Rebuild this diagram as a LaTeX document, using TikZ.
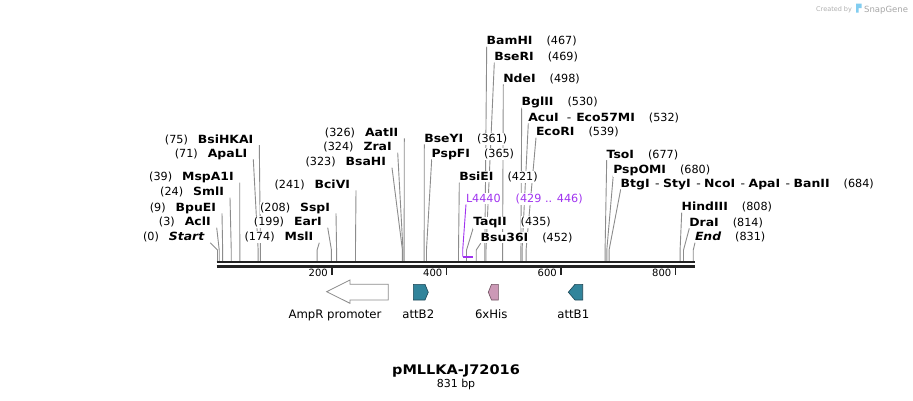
\documentclass[tikz,border=0pt]{standalone}
\usepackage{fontspec}
\setmainfont{DejaVu Sans}
\newfontfamily\namefont{DejaVu Sans}[FakeStretch=1.1]
\pgfdeclarelayer{bgfill}
\pgfdeclarelayer{lines}
\pgfsetlayers{bgfill,lines,main}
\definecolor{linegray}{RGB}{140,140,140}
\definecolor{bbcol}{RGB}{34,34,34}
\definecolor{primercol}{RGB}{160,51,240}
\definecolor{attcol}{RGB}{49,132,155}
\definecolor{attedge}{RGB}{30,70,85}
\definecolor{hiscol}{RGB}{204,153,182}
\definecolor{hisedge}{RGB}{110,80,95}
\definecolor{wmgray}{RGB}{175,175,175}
\definecolor{wmblue}{RGB}{130,205,240}
\newcommand\dashsep{\hspace{8pt}{\mdseries -}\hspace{5pt}}
\newcommand\dashsepb{\hspace{5.5pt}{\mdseries -}\hspace{3.5pt}}
% left-side label: id, right end of name, text centre y, number, name, bp
\newcommand\leftsite[6]{%
  \node[nm,anchor=base east] (#1) at (#2,#3+4.2) {#5};
  \node[num,anchor=base east] (#1n) at ([xshift=-10pt]#1.base west) {#4};
  \pgfmathsetmacro\siteX{217.5+0.5725*#6}
  \coordinate (#1p) at (#2+6,#3+6);
  \coordinate (#1k) at (\siteX,250);
  \coordinate (#1s) at (\siteX,261);
  \begin{pgfonlayer}{lines}\draw[cutline] (#1p) -- (#1k) -- (#1s);\end{pgfonlayer}
}
% right-side label: id, left end of name, text centre y, name, number, bp
\newcommand\rightsite[6]{%
  \node[nm,anchor=base west] (#1) at (#2,#3+4.2) {#4};
  \node[num,anchor=base west] (#1n) at ([xshift=14pt]#1.base east) {#5};
  \pgfmathsetmacro\siteX{217.5+0.5725*#6}
  \coordinate (#1p) at (#2,#3+6);
  \coordinate (#1k) at (\siteX,250);
  \coordinate (#1s) at (\siteX,261);
  \begin{pgfonlayer}{lines}\draw[cutline] (#1p) -- (#1k) -- (#1s);\end{pgfonlayer}
}
\begin{document}
\begin{tikzpicture}[x=1pt,y=-1pt,
  nm/.style={inner xsep=0pt,inner ysep=1pt,outer sep=0pt,fill=white,font=\namefont\fontsize{11.3}{13}\selectfont\bfseries},
  num/.style={inner xsep=0pt,inner ysep=1pt,outer sep=0pt,fill=white,font=\fontsize{11.2}{13}\selectfont},
  cutline/.style={draw=linegray,line width=0.9pt},
  backbone/.style={draw=bbcol,line width=2.3pt},
  tickmark/.style={draw=bbcol,line width=1.6pt},
  ticklab/.style={inner sep=0pt,font=\fontsize{10}{12}\selectfont,anchor=base east},
  featlab/.style={inner sep=0pt,font=\fontsize{11.7}{13}\selectfont,anchor=base},
  attfeat/.style={fill=attcol,draw=attedge,line width=0.6pt},
  hisfeat/.style={fill=hiscol,draw=hisedge,line width=0.6pt},
  promfeat/.style={fill=white,draw=linegray,line width=0.8pt}]
\useasboundingbox (0,0) rectangle (913,400);
\begin{pgfonlayer}{bgfill}
\fill[white] (0,0) rectangle (913,400);
\end{pgfonlayer}

% watermark
\node[inner sep=0pt,anchor=base west,text=wmgray,font=\fontsize{6.5}{8}\selectfont] (wm1) at (816,11) {Created by};
\fill[wmblue] (856,3.5) rectangle (861.5,8) (856,8) rectangle (858.5,12.5);
\node[inner sep=0pt,anchor=base west,text=wmgray!110,font=\fontsize{8.5}{10}\selectfont] (wm2) at (864,12) {SnapGene};

% backbone
\coordinate (bbA1) at (216.7,262); \coordinate (bbB1) at (695,262);
\coordinate (bbA2) at (216.7,266.4); \coordinate (bbB2) at (695,266.4);
\draw[backbone] (bbA1) -- (bbB1);
\draw[backbone] (bbA2) -- (bbB2);

% ticks
\foreach \t/\v in {1/200,2/400,3/600,4/800}{
  \pgfmathsetmacro\tx{217.5+0.5725*\v}
  \coordinate (tk\t a) at (\tx,266.5);
  \coordinate (tk\t b) at (\tx,274.5);
  \draw[tickmark] (tk\t a) -- (tk\t b);
  \node[ticklab] (tl\t) at (\tx-4,276.7) {\v};
}

% left-side sites
\leftsite{st}{204.3}{236.7}{(0)}{\itshape Start}{0}
\leftsite{acl}{210.7}{221.7}{(3)}{AclI}{3}
\leftsite{bpu}{216}{207.3}{(9)}{BpuEI}{9}
\leftsite{sml}{224}{191.7}{(24)}{SmlI}{24}
\leftsite{msp}{233.7}{176.7}{(39)}{MspA1I}{39}
\leftsite{apa}{247.3}{153.3}{(71)}{ApaLI}{71}
\leftsite{bsi}{253.3}{139}{(75)}{BsiHKAI}{75}
\leftsite{msl}{313.3}{236.7}{(174)}{MslI}{174}
\leftsite{ear}{321.7}{221.7}{(199)}{EarI}{199}
\leftsite{ssp}{330}{207.3}{(208)}{SspI}{208}
\leftsite{bci}{350}{184.3}{(241)}{BciVI}{241}
\leftsite{bsa}{386}{161.7}{(323)}{BsaHI}{323}
\leftsite{zra}{391.7}{146.7}{(324)}{ZraI}{324}
\leftsite{aat}{398.3}{132.3}{(326)}{AatII}{326}

% right-side sites
\rightsite{bse}{424.3}{138.3}{BseYI}{(361)}{361}
\rightsite{psf}{431.7}{153.3}{PspFI}{(365)}{365}
\rightsite{bsie}{459.3}{176.7}{BsiEI}{(421)}{421}
\rightsite{taq}{473.3}{221.7}{TaqII}{(435)}{435}
\rightsite{bsu}{480.7}{237.3}{Bsu36I}{(452)}{452}
\rightsite{bam}{486.7}{40.7}{BamHI}{(467)}{467}
\rightsite{bser}{494.3}{56.7}{BseRI}{(469)}{469}
\rightsite{nde}{503.3}{78.3}{NdeI}{(498)}{498}
\rightsite{bgl}{521.7}{101.7}{BglII}{(530)}{530}
\rightsite{acu}{528.3}{117.3}{AcuI\dashsep Eco57MI}{(532)}{532}
\rightsite{eco}{536}{131.7}{EcoRI}{(539)}{539}
\rightsite{tso}{606.7}{154}{TsoI}{(677)}{677}
\rightsite{pso}{613.3}{169}{PspOMI}{(680)}{680}
\rightsite{btg}{620.7}{183.3}{BtgI\dashsepb StyI\dashsepb NcoI\dashsepb ApaI\dashsepb BanII}{(684)}{684}
\rightsite{hin}{681.7}{206.7}{HindIII}{(808)}{808}
\rightsite{dra}{689.3}{222.3}{DraI}{(814)}{814}
\rightsite{endl}{695}{236.7}{\itshape End}{(831)}{831}

% primer L4440
\node[num,text=primercol,anchor=base west] (l44) at (466,202.5) {L4440};
\node[num,text=primercol,anchor=base west] (l44n) at ([xshift=15pt]l44.base east) {(429 .. 446)};
\coordinate (l44p) at (466,204.3);
\coordinate (l44k) at (462.7,250);
\coordinate (l44s) at (462.7,256.5);
\begin{pgfonlayer}{lines}
\draw[draw=primercol,line width=0.9pt] (l44p) -- (l44k) -- (l44s);
\end{pgfonlayer}
\coordinate (barA) at (462.7,257.3); \coordinate (barB) at (472.8,257.3);
\draw[draw=primercol,line width=2pt] (barA) -- (barB);

% features
\draw[promfeat] (326.7,291.7) -- (350,280) -- (350,284.3) -- (388.3,284.3)
  -- (388.3,300) -- (350,300) -- (350,303.3) -- cycle;
\draw[attfeat] (413.3,284.3) -- (425,284.3) -- (428.3,292.2) -- (425,300) -- (413.3,300) -- cycle;
\draw[hisfeat] (498.3,284.3) -- (491.5,284.3) -- (488.3,292.2) -- (491.5,300) -- (498.3,300) -- cycle;
\draw[attfeat] (582.7,284.3) -- (575,284.3) -- (568.3,292.2) -- (575,300) -- (582.7,300) -- cycle;
\node[featlab] (fAmp) at (335,318.3) {AmpR promoter};
\node[featlab] (fB2) at (418.3,318.3) {attB2};
\node[featlab] (fHis) at (491.3,318.3) {6xHis};
\node[featlab] (fB1) at (573.3,318.3) {attB1};

% title
\node[inner sep=0pt,anchor=base,font=\namefont\fontsize{13.2}{15}\selectfont\bfseries] (title) at (456,374.3) {pMLLKA-J72016};
\node[inner sep=0pt,anchor=base,font=\fontsize{11}{12}\selectfont] (len) at (456,387.5) {831 bp};
\end{tikzpicture}
\end{document}
